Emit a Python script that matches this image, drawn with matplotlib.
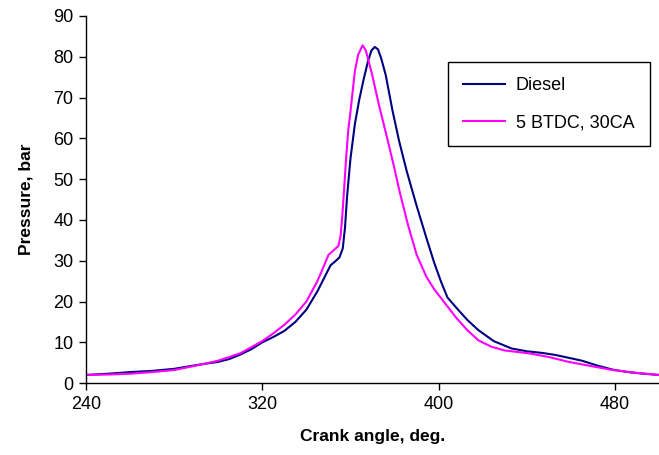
import numpy as np
import matplotlib
matplotlib.use("Agg")
import matplotlib.pyplot as plt

plt.rcParams['font.family'] = ['Liberation Sans', 'DejaVu Sans']

# crank angle (deg) and cylinder pressure (bar)
diesel_ca = [240, 250, 260, 270, 280, 290, 296, 300, 305, 310, 315, 320, 325, 330,
             335, 340, 345, 348, 351, 353, 355, 356.5, 357.5, 358.5, 360, 362,
             364, 366, 368, 369.5, 371, 372.5, 374, 376, 379, 382, 385.5, 390,
             394.5, 398, 401, 404, 408, 413, 418, 425, 433, 440, 447, 453, 459,
             465, 472, 479, 486, 493, 500]
diesel_p = [2.0, 2.3, 2.7, 3.0, 3.5, 4.4, 4.9, 5.2, 5.9, 7.0, 8.3, 10.0, 11.3, 12.8,
            15.0, 18.0, 22.5, 25.7, 28.9, 29.8, 30.8, 33.0, 38.0, 46.0, 55.0, 63.5,
            69.5, 74.5, 79.0, 81.5, 82.4, 81.8, 79.5, 75.5, 67.0, 59.5, 52.0, 43.5,
            35.5, 29.5, 25.0, 21.0, 18.5, 15.5, 13.0, 10.3, 8.5, 7.8, 7.4, 6.9, 6.2,
            5.5, 4.3, 3.3, 2.7, 2.3, 2.0]

late_ca = [240, 250, 260, 270, 280, 290, 300, 310, 320, 325, 330, 335, 340, 345,
           348, 350, 352, 354.5, 355.5, 356.3, 357, 358, 359, 360, 361, 362, 363.5,
           365.5, 367, 369.7, 373, 376.5, 380, 382.5, 386, 390, 394.5, 398, 403,
           408, 413, 418, 424, 430, 441, 450, 459, 468, 479, 490, 500]
late_p = [2.0, 2.1, 2.3, 2.7, 3.2, 4.3, 5.5, 7.3, 10.3, 12.2, 14.3, 16.8, 20.0, 25.0,
          28.8, 31.4, 32.4, 33.6, 36.0, 41.0, 46.5, 55.0, 62.0, 66.5, 71.5, 76.5, 80.5,
          82.8, 81.5, 75.9, 68.0, 60.4, 52.5, 46.5, 39.0, 31.5, 26.0, 23.0, 19.5,
          16.0, 13.0, 10.5, 8.9, 8.0, 7.3, 6.4, 5.2, 4.3, 3.2, 2.5, 2.0]

xticks = [240, 320, 400, 480]
yticks = list(range(0, 91, 10))

fig = plt.figure(figsize=(6.59, 4.55), dpi=100)
ax = fig.add_axes([0.1305, 0.158, 0.8695, 0.807])

ax.plot(diesel_ca, diesel_p, color='#000080', lw=1.5, label='Diesel')
ax.plot(late_ca, late_p, color='#ff00ff', lw=1.5, label='5 BTDC, 30CA')

ax.set_xlim(240, 500)
ax.set_ylim(0, 90)
ax.set_xticks(xticks)
ax.set_yticks(yticks)
ax.spines['top'].set_visible(False)
ax.spines['right'].set_visible(False)
for s in ('left', 'bottom'):
    ax.spines[s].set_linewidth(1.0)
ax.tick_params(direction='out', length=5, width=1.0, labelsize=13, pad=4)

ax.set_xlabel('Crank angle, deg.', fontsize=12.5, fontweight='bold', labelpad=12)
ax.set_ylabel('Pressure, bar', fontsize=12.5, fontweight='bold', labelpad=14)

leg = ax.legend(loc='upper left', bbox_to_anchor=(0.632, 0.875), fontsize=13,
                frameon=True, fancybox=False, edgecolor='black', framealpha=1,
                handlelength=2.3, handletextpad=0.6, labelspacing=1.1,
                borderpad=0.85, borderaxespad=0)
leg.get_frame().set_linewidth(1.0)

fig.savefig('out.png', dpi=100)
